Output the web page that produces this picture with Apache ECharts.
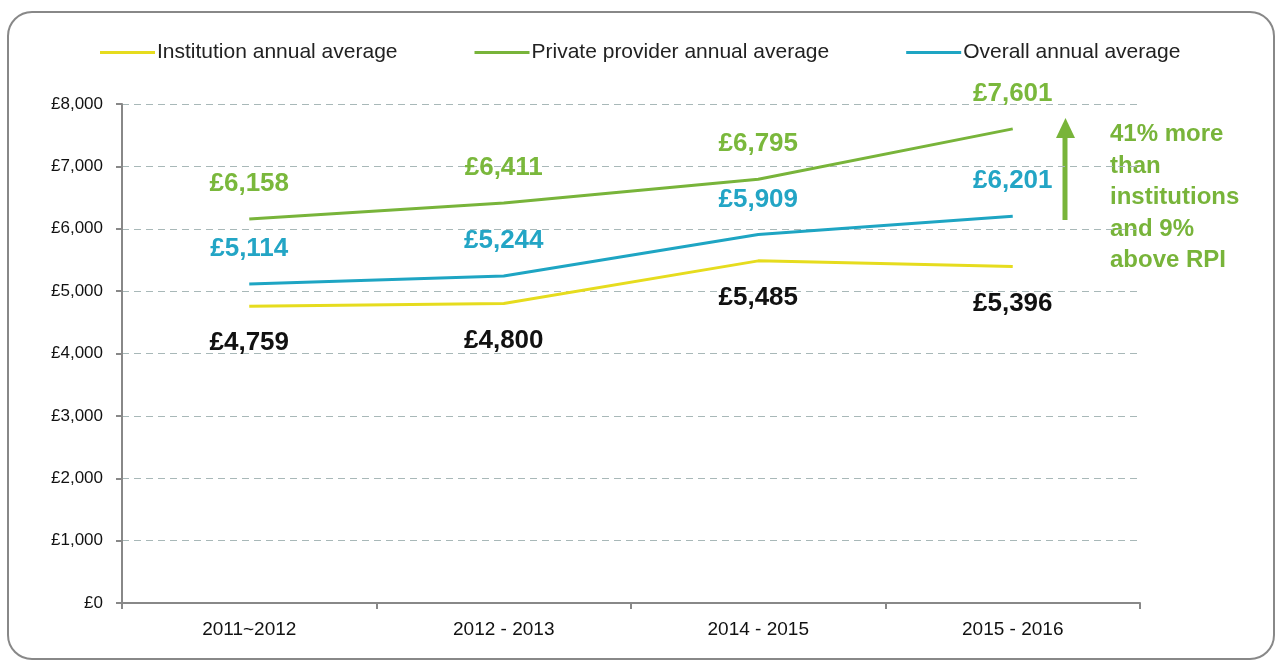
<!DOCTYPE html>
<html>
<head>
    <meta charset="utf-8">
    <script src="https://cdn.jsdelivr.net/npm/echarts@6/dist/echarts.min.js"></script>
</head>
<body style="margin:0;background:#fff;">
    <div id="main" style="width:1279px;height:663px;"></div>
    <script type="text/javascript">
        var myChart = echarts.init(document.getElementById('main'));

        // data
        var categories = ['2011~2012', '2012 - 2013', '2014 - 2015', '2015 - 2016'];
        var institution = [4759, 4800, 5485, 5396];
        var privateProvider = [6158, 6411, 6795, 7601];
        var overall = [5114, 5244, 5909, 6201];
        var noteLines = ['41% more', 'than', 'institutions', 'and 9%', 'above RPI'];

        var cYellow = '#e6dc1e', cGreen = '#78b43a', cBlue = '#1ea5c3';
        var font = '"Liberation Sans", Arial, sans-serif';

        function money(v) {
            return '£' + v.toLocaleString('en-GB');
        }

        function lineSeries(name, data, color, labelColor, pos) {
            return {
                name: name,
                type: 'line',
                data: data,
                symbol: 'circle',
                symbolSize: 0,
                showSymbol: true,
                animation: false,
                lineStyle: { color: color, width: 3 },
                itemStyle: { color: color },
                label: {
                    show: true,
                    position: pos,
                    distance: pos === 'bottom' ? 24 : 22,
                    color: labelColor,
                    fontSize: 26,
                    fontWeight: 'bold',
                    fontFamily: font,
                    formatter: function (p) { return money(p.value); }
                }
            };
        }

        var option = {
            backgroundColor: '#fff',
            legend: {
                top: 37,
                left: 95,
                itemGap: 77,
                itemWidth: 55,
                itemHeight: 3,
                icon: 'rect',
                textStyle: { fontSize: 21, color: '#222', fontFamily: font, padding: [0, 0, 0, -3] },
                data: ['Institution annual average', 'Private provider annual average', 'Overall annual average']
            },
            grid: { left: 122, right: 139, top: 104, bottom: 60 },
            xAxis: {
                type: 'category',
                data: categories,
                boundaryGap: true,
                axisLine: { lineStyle: { color: '#888', width: 2 } },
                axisTick: { show: true, length: 6, lineStyle: { color: '#888', width: 2 } },
                axisLabel: { color: '#111', fontSize: 19, fontFamily: font, margin: 17 }
            },
            yAxis: {
                type: 'value',
                min: 0,
                max: 8000,
                interval: 1000,
                axisLine: { show: true, lineStyle: { color: '#888', width: 2 } },
                axisTick: { show: true, length: 6, lineStyle: { color: '#888', width: 2 } },
                splitLine: { lineStyle: { color: '#a8b8b8', type: [7, 5], width: 1 } },
                axisLabel: { color: '#111', fontSize: 17, fontFamily: font, margin: 19,
                    formatter: function (v) { return money(v); } }
            },
            graphic: [
                {
                    type: 'rect',
                    shape: { x: 8, y: 12, width: 1266, height: 647, r: 24 },
                    style: { fill: 'none', stroke: '#888', lineWidth: 2 },
                    z: -1
                },
                {
                    type: 'line',
                    shape: { x1: 1065, y1: 220, x2: 1065, y2: 136 },
                    style: { stroke: cGreen, lineWidth: 5 }
                },
                {
                    type: 'polygon',
                    shape: { points: [[1056, 138], [1075, 138], [1065.5, 118]] },
                    style: { fill: cGreen }
                },
                {
                    type: 'text',
                    left: 1110,
                    top: 119,
                    style: {
                        text: noteLines.join('\n'),
                        fill: cGreen,
                        font: 'bold 24px ' + font,
                        lineHeight: 31.5
                    }
                }
            ],
            series: [
                lineSeries('Institution annual average', institution, cYellow, '#111', 'bottom'),
                lineSeries('Private provider annual average', privateProvider, cGreen, '#7ab83c', 'top'),
                lineSeries('Overall annual average', overall, cBlue, '#23a5c5', 'top')
            ]
        };

        myChart.setOption(option);
    </script>
</body>
</html>
